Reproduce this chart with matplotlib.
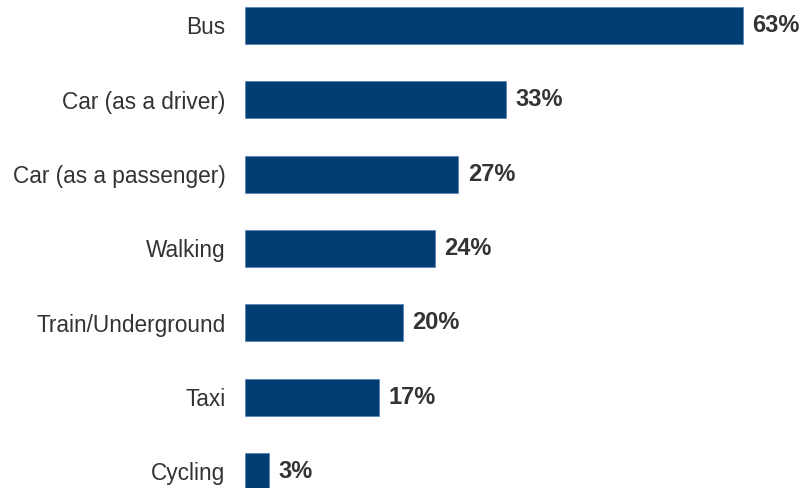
import matplotlib
matplotlib.use("Agg")
import matplotlib.pyplot as plt

categories = ["Bus", "Car (as a driver)", "Car (as a passenger)", "Walking",
              "Train/Underground", "Taxi", "Cycling"]
values = [63, 33, 27, 24, 20, 17, 3]

plt.rcParams["font.family"] = ["Liberation Sans", "DejaVu Sans"]

fig = plt.figure(figsize=(8.02, 4.88), dpi=100)
ax = fig.add_axes([245 / 802, 0, (802 - 245) / 802, 1])

pos = list(range(len(categories)))
ax.barh(pos, values, height=0.5, color="#023E74", edgecolor="#5B86B5", linewidth=0.6)

for y, v in zip(pos, values):
    ax.text(v + 1.2, y, f"{v}%", va="center", ha="left", fontsize=17,
            fontweight="bold", color="#333333")

ax.set_yticks(pos)
ax.set_yticklabels(categories, fontsize=16.3, color="#333333")
ax.tick_params(axis="y", length=0, pad=14)
ax.set_xticks([])
ax.set_xlim(0, 70.46)
ax.set_ylim(6.222, -0.343)
for s in ax.spines.values():
    s.set_visible(False)

fig.savefig("out.png", dpi=100)
